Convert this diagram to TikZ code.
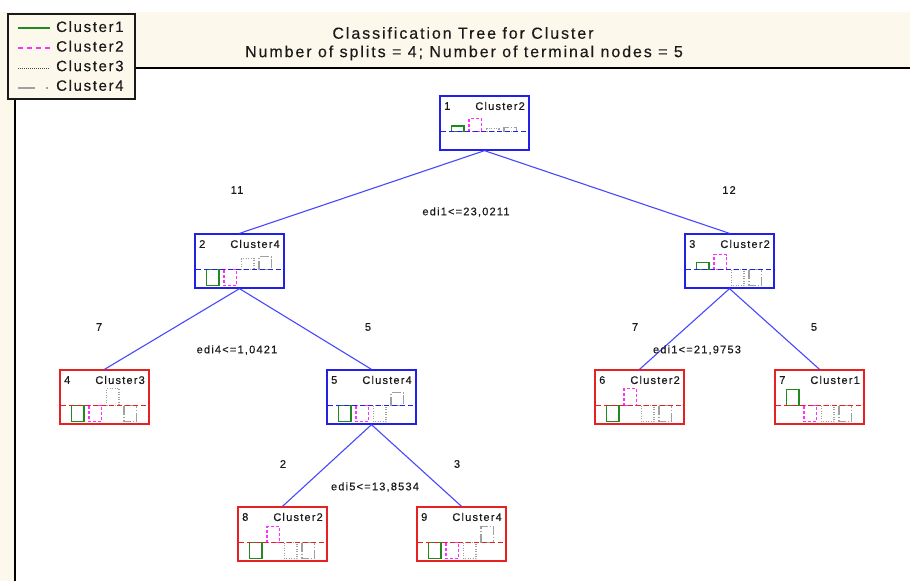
\documentclass[tikz,border=0pt]{standalone}
\usepackage{fontspec}
\setmainfont{Liberation Sans}
\newfontfamily\spaced{Liberation Sans}[LetterSpace=11, FakeBold=0.3]
\newfontfamily\titlefont{Liberation Sans}[LetterSpace=12, FakeBold=0.3]
\definecolor{cream}{HTML}{FDF8EC}
\definecolor{nodeblue}{HTML}{2020E8}
\definecolor{edgeblue}{HTML}{4848FF}
\definecolor{nodered}{HTML}{E82020}
\definecolor{bargreen}{HTML}{208A20}
\definecolor{barmag}{HTML}{FF30FF}
\definecolor{bargrey}{HTML}{A0A0A0}
\definecolor{ink}{HTML}{1A1A1A}
\tikzset{
  treebox/.style={draw, line width=1.3pt, minimum width=89pt, minimum height=54pt, inner sep=0pt, fill=white},
  boxtxt/.style={inner sep=0pt, text=ink, font=\spaced\fontsize{11}{13}\selectfont},
  lbl/.style={inner sep=0pt, text=ink, font=\spaced\fontsize{11}{13}\selectfont},
  edge/.style={draw=edgeblue, line width=1.1pt},
  splitline/.style={line width=1pt, dash pattern=on 5pt off 3pt},
  bargreenst/.style={draw=bargreen, line width=1.3pt},
  barmagst/.style={draw=barmag, line width=1.3pt, dash pattern=on 3pt off 2pt},
  bardotst/.style={draw=bargrey, line width=1.1pt, dash pattern=on 1pt off 1.5pt},
  barfourst/.style={draw=bargrey, line width=1.3pt, dash pattern=on 9pt off 2pt on 1pt off 2pt},
}
% #1 name, #2 top-left corner, #3 box colour, #4 number, #5 predicted class,
% #6-#9 signed bar heights (positive up) for the four clusters
\newcommand\cartnode[9]{%
  \begin{scope}[shift={(#2)}]
    \node[treebox, draw=#3] (#1) at (44.5,27) {};
    \node[boxtxt, anchor=west] (#1num) at (4,10) {#4};
    \node[boxtxt, anchor=east] (#1cls) at (85,10) {#5};
    \draw[bargreenst] (11.5,35.5) rectangle ++(12.5,{-1*(#6)});
    \draw[barmagst] (29,35.5) rectangle ++(12.5,{-1*(#7)});
    \draw[bardotst] (46.5,35.5) rectangle ++(12.5,{-1*(#8)});
    \draw[barfourst] (64,35.5) rectangle ++(12.5,{-1*(#9)});
    \draw[#3, splitline] (1,35.5) -- (88,35.5);
  \end{scope}}
\begin{document}
\begin{tikzpicture}[x=1pt,y=-1pt]
\useasboundingbox (0,0) rectangle (910,581);
\fill[white] (0,0) rectangle (910,581);
\fill[cream] (0,12) rectangle (910,581);
% plotting area
\fill[white] (15,68) rectangle (910,581);
\draw[black, line width=1.2pt] (15,581) -- (15,68) -- (910,68);

% title
\node[inner sep=0pt, text=ink, font=\titlefont\fontsize{16}{18}\selectfont] (title1) at (463,33) {Classification Tree for Cluster};
\node[inner sep=0pt, text=ink, font=\titlefont\fontsize{16}{18}\selectfont] (title2) at (464,53) {Number of splits = 4; Number of terminal nodes = 5};

% legend
\draw[fill=cream, draw=ink, line width=2.5pt] (8,14) rectangle (135,99);
\coordinate (la1) at (18,28); \coordinate (lb1) at (50,28);
\coordinate (la2) at (18,48); \coordinate (lb2) at (50,48);
\coordinate (la3) at (18,68); \coordinate (lb3) at (50,68);
\coordinate (la4) at (18,88); \coordinate (lb4) at (50,88);
\draw[draw=bargreen, line width=1.2pt] (la1) -- (lb1);
\draw[draw=barmag, line width=1.2pt, dash pattern=on 5pt off 4pt] (la2) -- (lb2);
\draw[draw=ink!80, line width=1pt, dash pattern=on 1pt off 1pt] (la3) -- (lb3);
\draw[draw=bargrey, line width=1.2pt, dash pattern=on 17pt off 11pt on 2pt off 10pt] (la4) -- (lb4);
\foreach \i in {1,2,3,4}
  \node[inner sep=0pt, anchor=west, text=ink, font=\spaced\fontsize{15}{17}\selectfont] (leg\i) at (56,{7+19.6*\i}) {Cluster\i};

% tree nodes
\cartnode{n1}{440,96}{nodeblue}{1}{Cluster2}{5.5}{13}{3}{4}
\cartnode{n2}{195,234}{nodeblue}{2}{Cluster4}{-16}{-16}{11}{13}
\cartnode{n3}{685,234}{nodeblue}{3}{Cluster2}{7}{15}{-16}{-16}
\cartnode{n4}{60,370}{nodered}{4}{Cluster3}{-16}{-16}{17}{-16}
\cartnode{n5}{327,370}{nodeblue}{5}{Cluster4}{-16}{-16}{-16}{13}
\cartnode{n6}{595,370}{nodered}{6}{Cluster2}{-16}{17}{-16}{-16}
\cartnode{n7}{775,370}{nodered}{7}{Cluster1}{16}{-16}{-16}{-16}
\cartnode{n8}{238,507}{nodered}{8}{Cluster2}{-16}{16}{-16}{-16}
\cartnode{n9}{417,507}{nodered}{9}{Cluster4}{-16}{-16}{-16}{16}

% branches
\draw[edge] (n1.south) -- (n2.north);
\draw[edge] (n1.south) -- (n3.north);
\draw[edge] (n2.south) -- (n4.north);
\draw[edge] (n2.south) -- (n5.north);
\draw[edge] (n3.south) -- (n6.north);
\draw[edge] (n3.south) -- (n7.north);
\draw[edge] (n5.south) -- (n8.north);
\draw[edge] (n5.south) -- (n9.north);

% counts and split rules
\node[lbl] (c2) at (237,190) {11};
\node[lbl] (c3) at (729,190) {12};
\node[lbl] (s1) at (466,212) {edi1<=23,0211};
\node[lbl] (c4) at (99,327) {7};
\node[lbl] (c5) at (368,327) {5};
\node[lbl] (s2) at (237,350) {edi4<=1,0421};
\node[lbl] (c6) at (635,327) {7};
\node[lbl] (c7) at (814,327) {5};
\node[lbl] (s3) at (697,350) {edi1<=21,9753};
\node[lbl] (c8) at (283,464) {2};
\node[lbl] (c9) at (457,464) {3};
\node[lbl] (s4) at (375,487) {edi5<=13,8534};
\end{tikzpicture}
\end{document}
